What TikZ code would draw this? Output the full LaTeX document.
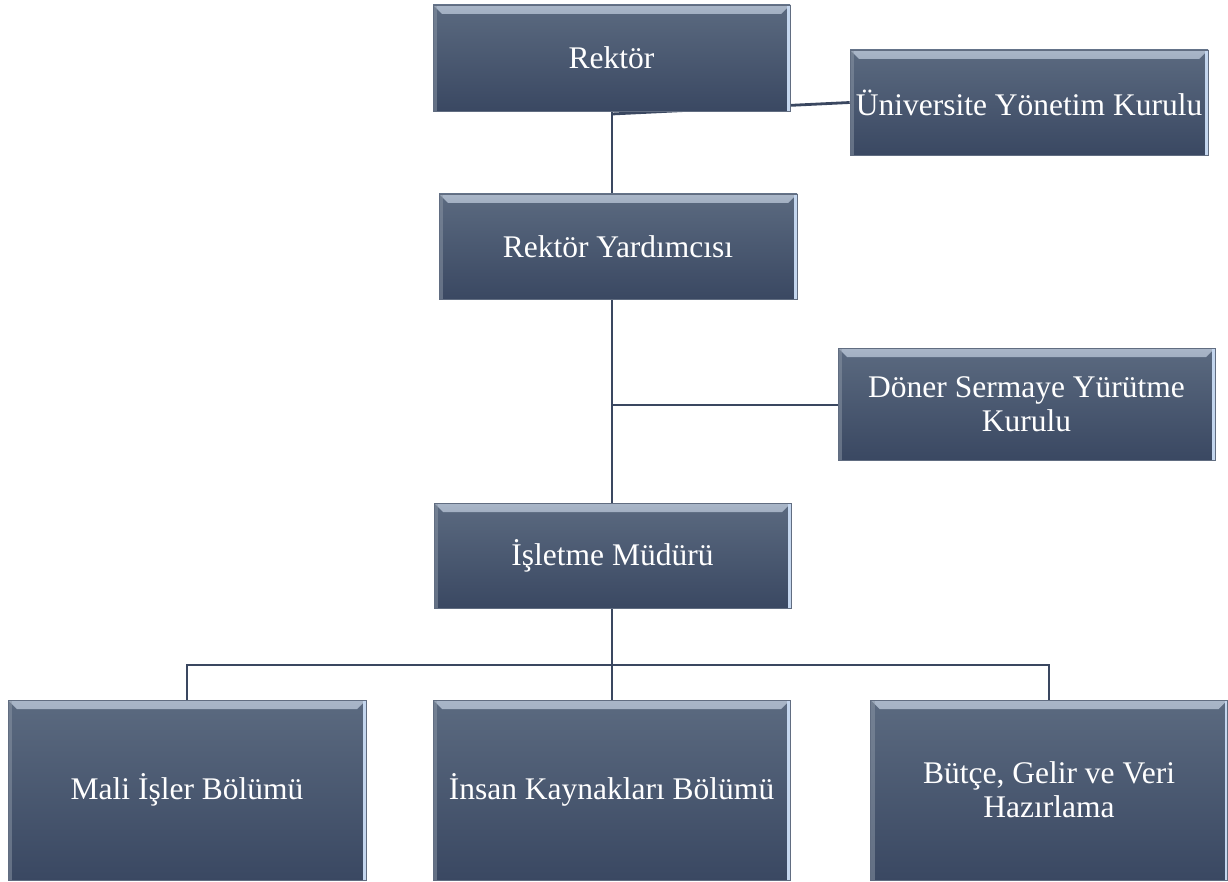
\documentclass[tikz,border=0pt]{standalone}
\usepackage{fontspec}
\setmainfont{Liberation Serif}
\usetikzlibrary{positioning, backgrounds}
\definecolor{box_top}{HTML}{5B6A80}
\definecolor{box_bot}{HTML}{3A4862}
\definecolor{bevel_hi}{HTML}{A9B6C8}
\definecolor{edge_hi}{HTML}{C4D6EE}
\definecolor{line_col}{HTML}{3A4760}
\tikzset{
    unit/.style={rectangle, inner sep=0pt, align=center, text=white,
        font=\fontsize{31.5}{34}\selectfont, top color=box_top, bottom color=box_bot,
        draw=box_bot!80!white, line width=0.6pt,
        path picture={
            % top bevel
            \shade[top color=bevel_hi, bottom color=box_top]
                (path picture bounding box.north west) -- (path picture bounding box.north east)
                -- ([xshift=-9pt, yshift=-9pt]path picture bounding box.north east)
                -- ([xshift=9pt, yshift=-9pt]path picture bounding box.north west) -- cycle;
            % right highlight
            \fill[edge_hi] ([xshift=-3pt]path picture bounding box.north east)
                rectangle (path picture bounding box.south east);
            % left edge
            \fill[box_top!70!white, opacity=0.5] (path picture bounding box.north west)
                rectangle ([xshift=4pt]path picture bounding box.south west);
        }},
    link/.style={draw=line_col, line width=2.8pt}
}

\begin{document}
\begin{tikzpicture}[x=1pt, y=-1pt]
    \useasboundingbox (0,0) rectangle (1228,882);

    \node (rektor) [unit, minimum width=357pt, minimum height=106pt] at (611.5, 58) {Rektör};
    \node (uyk) [unit, minimum width=358pt, minimum height=105pt] at (1029, 102.5) {Üniversite Yönetim Kurulu};
    \node (ryard) [unit, minimum width=358pt, minimum height=105pt] at (618, 246.5) {Rektör Yardımcısı};
    \node (dsyk) [unit, minimum width=377pt, minimum height=112pt] at (1026.5, 404) {Döner Sermaye Yürütme\\Kurulu};
    \node (mudur) [unit, minimum width=357pt, minimum height=105pt] at (612.5, 555.5) {İşletme Müdürü};

    \node (mali) [unit, minimum width=358pt, minimum height=180pt] at (187, 790) {Mali İşler Bölümü};
    \node (insan) [unit, minimum width=357pt, minimum height=180pt] at (611.5, 790) {İnsan Kaynakları Bölümü};
    \node (butce) [unit, minimum width=357pt, minimum height=180pt] at (1049, 790) {Bütçe, Gelir ve Veri\\Hazırlama};

    \coordinate (rk_joint) at (612, 114);
    \coordinate (ds_joint) at (612, 405);
    \coordinate (bus) at (612, 665);

    \begin{scope}[on background layer]
        % upper chain
        \draw[link] (rektor.south -| rk_joint) -- (ryard.north -| rk_joint);
        \draw[link] (rk_joint) -- (uyk.west);
        \draw[link] (ryard.south -| rk_joint) -- (mudur.north -| rk_joint);
        \draw[link] (ds_joint) -- (ds_joint -| dsyk.west);

        % departments
        \draw[link] (mudur.south -| bus) -- (insan.north -| bus);
        \draw[link] (mali.north) -- (mali.north |- bus) -- (butce.north |- bus) -- (butce.north);
    \end{scope}
\end{tikzpicture}
\end{document}
